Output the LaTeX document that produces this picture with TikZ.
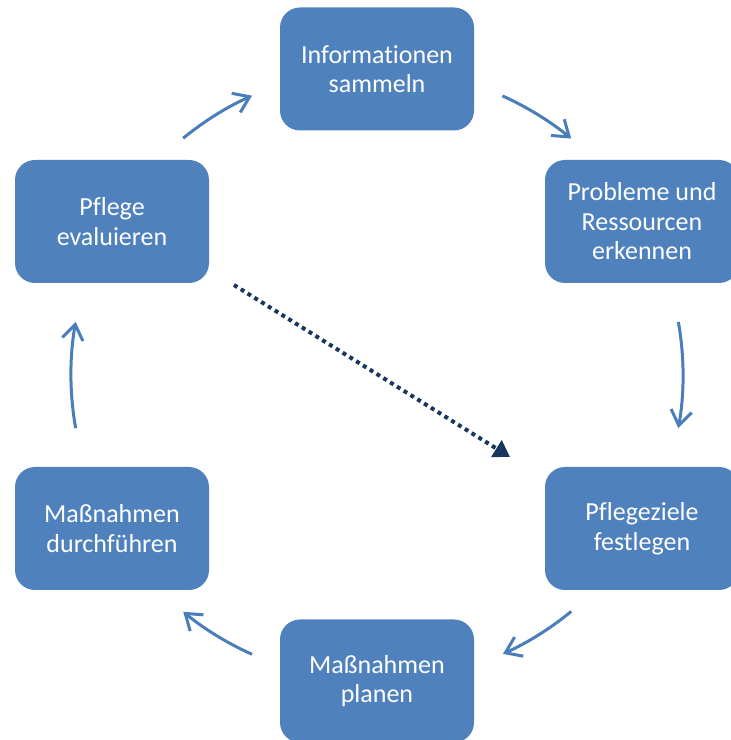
\documentclass[tikz,border=0pt]{standalone}
\usepackage{fontspec}
\setmainfont{Carlito}[Ligatures={NoCommon}]
\usetikzlibrary{arrows.meta,calc}
\definecolor{boxblue}{HTML}{4F81BD}
\definecolor{arrowblue}{HTML}{4A7EBB}
\definecolor{navy}{HTML}{17375E}
\begin{document}
\begin{tikzpicture}[x=1pt,y=1pt,
  stepbox/.style={rectangle, rounded corners=20pt, fill=boxblue, draw=none,
    minimum width=194pt, minimum height=123pt, text=white, align=center,
    font=\fontsize{26pt}{29.5pt}\selectfont, inner sep=0pt},
  flow/.style={draw=arrowblue, line width=3pt,
    -{Straight Barb[length=15pt,width=21pt,line width=3pt]}},
  dots/.style={draw=navy, line width=4pt, dash pattern=on 4pt off 4pt,
    -{Triangle[length=16pt,width=19pt]}}]
\clip (0,0) rectangle (731,740);
\node[stepbox] (info) at (377,671) {Informationen\\sammeln};
\node[stepbox] (prob) at (642,518.5) {Probleme und\\Ressourcen\\erkennen};
\node[stepbox] (ziel) at (642,211.5) {Pflegeziele\\festlegen};
\node[stepbox] (plan) at (377,59) {Maßnahmen\\planen};
\node[stepbox] (durch) at (112,211.5) {Maßnahmen\\durchführen};
\node[stepbox] (eval) at (112,518.5) {Pflege\\evaluieren};
\coordinate (c) at (377,365);
\coordinate (a1) at ($(c)+(129.3:306)$);
\coordinate (a2) at ($(c)+(65.8:306)$);
\coordinate (a3) at ($(c)+(10:306)$);
\coordinate (a4) at ($(c)+(-50.6:306)$);
\coordinate (a5) at ($(c)+(-114.1:306)$);
\coordinate (a6) at ($(c)+(190:306)$);
\draw[flow] (a1) arc[start angle=129.3, end angle=114.1, radius=306];
\draw[flow] (a2) arc[start angle=65.8, end angle=50.6, radius=306];
\draw[flow] (a3) arc[start angle=10, end angle=-10, radius=306];
\draw[flow] (a4) arc[start angle=-50.6, end angle=-65.7, radius=306];
\draw[flow] (a5) arc[start angle=-114.1, end angle=-129.3, radius=306];
\draw[flow] (a6) arc[start angle=190, end angle=170, radius=306];
\coordinate (d1) at (234,455);
\coordinate (d2) at (510,283);
\draw[dots] (d1) -- (d2);
\end{tikzpicture}
\end{document}
